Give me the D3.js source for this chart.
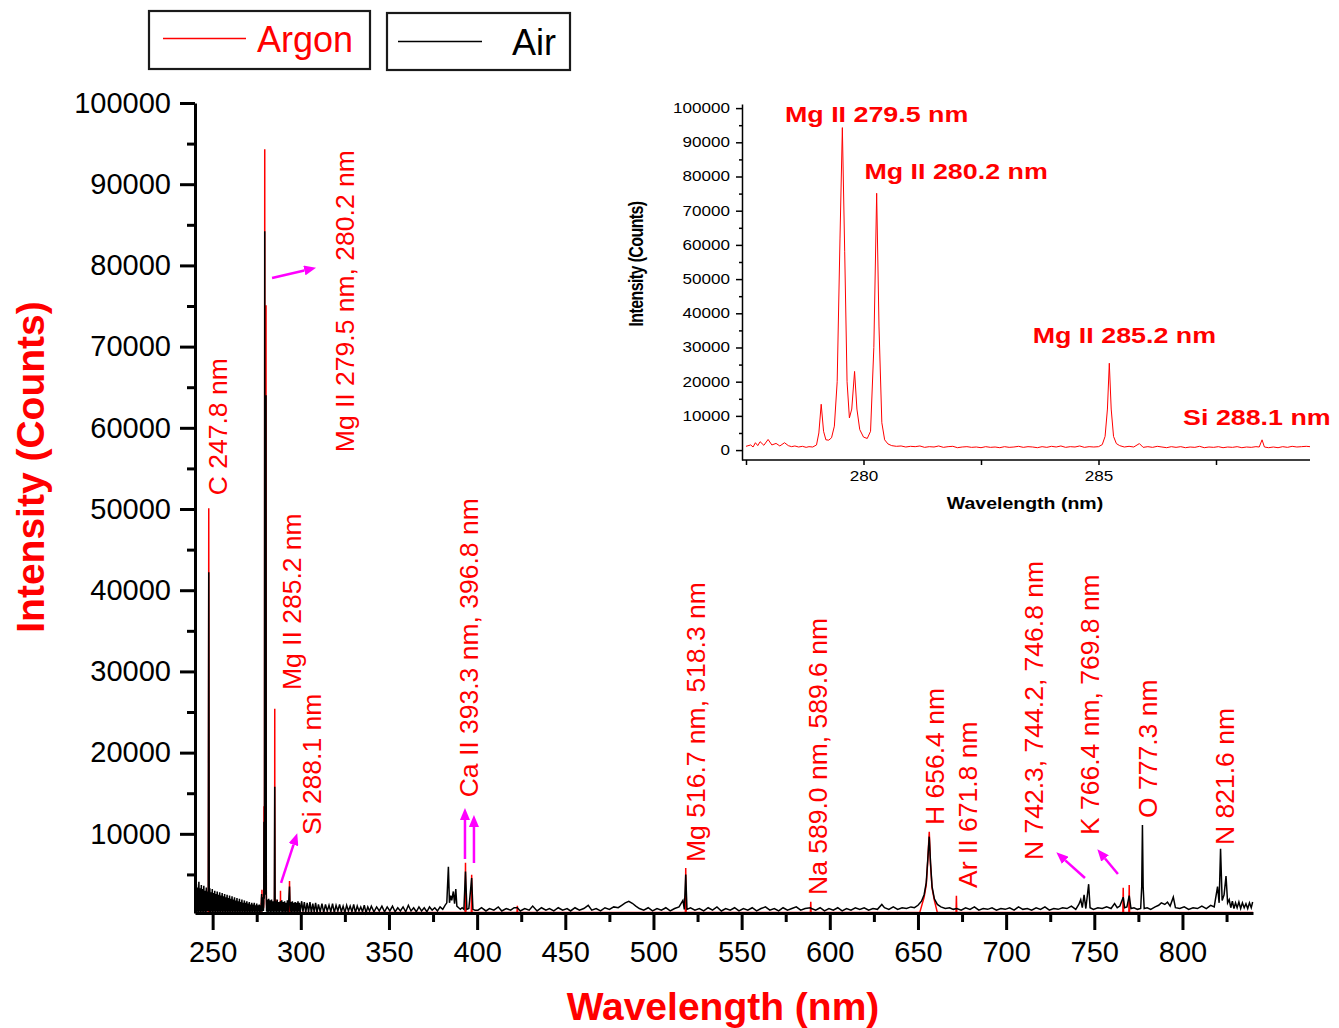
<!DOCTYPE html>
<html>
<head>
<meta charset="utf-8">
<script src="https://cdn.jsdelivr.net/npm/d3@7"></script>
<style>
  body { margin: 0; background: #fff; }
  text { font-family: "Liberation Sans", Arial, sans-serif; }
</style>
</head>
<body>
<svg id="chart" width="1339" height="1028"></svg>
<script>
// ---- data ----
// [wavelength nm, counts]
const airSpectrum = [
  [240.1,3100],[240.4,300],[240.8,3800],[241.1,400],[241.5,3400],[241.8,300],[242.2,4100],[242.5,400],[242.9,3300],[243.2,300],
  [243.6,3700],[243.9,400],[244.3,3200],[244.6,300],[245.0,3600],[245.3,400],[245.7,3000],[246.0,300],[246.4,3400],[246.7,400],
  [247.1,2900],[247.5,500],[247.8,42200],[248.1,400],[248.4,3300],[248.7,300],[249.1,2800],[249.4,400],[249.8,3200],[250.1,300],
  [250.5,2700],[250.8,400],[251.2,3000],[251.5,300],[251.9,2600],[252.2,400],[252.6,2900],[252.9,300],[253.3,2500],[253.6,400],
  [254.0,2800],[254.3,300],[254.7,2400],[255.0,400],[255.4,2700],[255.7,300],[256.1,2300],[256.4,400],[256.8,2600],[257.1,300],
  [257.5,2200],[257.8,400],[258.2,2500],[258.5,300],[258.9,2100],[259.2,400],[259.6,2400],[259.9,300],[260.3,2000],[260.6,400],
  [261.0,2300],[261.3,300],[261.7,1900],[262.0,400],[262.4,2200],[262.7,300],[263.1,1800],[263.4,400],[263.8,2100],[264.1,300],
  [264.5,1700],[264.8,400],[265.2,2000],[265.5,300],[265.9,1600],[266.2,400],[266.6,1900],[266.9,300],[267.3,1500],[267.6,400],
  [268.0,1800],[268.3,300],[268.7,1500],[269.0,400],[269.4,1700],[269.7,300],[270.1,1400],[270.4,400],[270.8,1600],[271.1,300],
  [271.5,1300],[271.8,400],[272.2,1500],[272.5,300],[272.9,1300],[273.2,400],[273.6,1500],[273.9,300],[274.3,1200],[274.6,400],
  [275.0,1400],[275.3,300],[275.7,1200],[276.0,400],[276.4,1300],[276.7,300],[277.1,1200],[277.4,400],[277.8,2600],[278.1,400],
  [278.5,2200],[278.8,500],[279.0,1500],[279.1,11500],[279.25,2000],[279.4,7000],[279.55,84200],[279.7,5000],[279.81,14000],[279.95,2500],
  [280.15,6000],[280.28,64000],[280.42,2500],[280.6,400],[281.0,1900],[281.4,300],[281.8,2000],[282.2,400],[282.6,1800],[283.0,300],
  [283.4,1900],[283.8,400],[284.2,1700],[284.6,300],[285.0,1800],[285.22,15800],[285.45,400],[285.8,1700],[286.2,300],[286.6,1900],
  [287.0,400],[287.4,1600],[287.8,300],[288.2,1500],[288.48,1700],[288.8,400],[289.2,1800],[289.6,300],[290.0,1600],[290.4,400],
  [290.8,1700],[291.2,300],[291.6,1500],[292.0,400],[292.4,1800],[292.8,300],[293.2,1900],[293.6,3500],[294.0,400],[294.4,1600],
  [294.8,300],[295.2,1700],[295.6,400],[296.0,1500],[296.4,300],[296.8,1600],[297.2,400],[297.6,1500],[298.0,300],[298.4,1700],
  [298.8,400],[299.2,1500],[299.6,300],[300.5,1700],[301.2,400],[302.0,1600],[302.8,300],[303.6,1500],[304.4,400],[305.2,1600],
  [306.0,300],[306.8,1400],[307.6,400],[308.4,1500],[309.2,300],[310.0,1300],[311.0,400],[312.0,1400],[313.0,300],[314.0,1300],
  [315.0,500],[316.0,1200],[317.0,400],[318.0,1400],[319.0,300],[320.0,1200],[321.0,500],[322.0,1300],[323.0,400],[324.0,1100],
  [325.0,300],[326.0,1200],[327.0,500],[328.0,1100],[329.0,400],[330.0,1300],[331.0,300],[332.0,1100],[333.0,500],[334.0,1000],
  [335.0,400],[336.0,1200],[337.0,300],[338.0,1000],[339.0,500],[340.0,1100],[341.5,400],[343.0,1000],[344.5,500],[346.0,1100],
  [347.5,400],[349.0,1000],[350.5,500],[352.0,1100],[353.5,400],[355.0,900],[356.5,500],[358.0,1000],[359.5,400],[361.0,1200],
  [362.5,500],[364.0,900],[365.5,400],[367.0,1000],[368.5,500],[370.0,900],[371.5,400],[373.0,1000],[374.5,600],[376.0,900],
  [377.5,500],[379.0,1000],[380.5,700],[381.8,1200],[382.8,1500],[383.7,5950],[384.3,1500],[385.0,2400],[385.6,1800],[386.5,2900],
  [387.2,1400],[387.9,3200],[388.5,1100],[389.5,900],[390.5,700],[391.5,900],[392.5,700],[393.4,5350],[394.2,700],[395.3,800],
  [396.9,4550],[397.6,700],[398.8,600],[400.5,600],[402.5,900],[405.0,500],[407.0,800],[409.5,600],[412.0,1000],[414.0,500],
  [416.5,800],[419.0,600],[421.0,900],[422.8,900],[424.5,500],[427.0,800],[429.5,600],[431.5,1100],[434.0,500],[436.5,900],
  [439.0,600],[441.0,800],[443.5,500],[446.0,900],[448.5,600],[451.0,800],[453.0,500],[455.5,900],[458.0,600],[460.5,800],
  [463.0,1200],[465.0,600],[467.5,800],[470.0,500],[472.5,900],[475.0,700],[477.5,1000],[480.0,900],[482.0,1200],[484.0,1500],
  [486.0,1700],[488.0,1450],[490.0,1100],[492.0,800],[494.5,600],[497.0,900],[499.5,500],[502.0,800],[504.5,600],[507.0,900],
  [509.5,500],[512.0,800],[514.5,1000],[516.7,1800],[517.5,700],[518.3,5000],[519.0,700],[521.0,900],[523.5,600],[526.0,800],
  [528.5,500],[531.0,900],[533.5,600],[536.0,1000],[538.5,500],[541.0,800],[543.5,600],[546.0,900],[548.5,500],[551.0,800],
  [553.5,600],[556.0,900],[558.5,500],[561.0,800],[563.5,1000],[566.0,600],[568.5,800],[571.0,500],[573.5,900],[576.0,600],
  [578.5,800],[581.0,1000],[583.5,600],[586.0,800],[589.0,900],[589.6,800],[592.0,600],[594.5,900],[597.0,500],[599.5,800],
  [602.0,600],[604.5,900],[607.0,500],[609.5,800],[612.0,600],[614.5,900],[617.0,700],[619.5,900],[622.0,600],[624.5,800],
  [627.0,700],[629.5,1300],[631.0,900],[633.5,700],[636.0,1000],[638.5,700],[641.0,900],[643.5,800],[646.0,1000],[648.0,900],
  [650.0,1200],[652.0,1700],[653.5,2500],[654.7,4000],[655.6,7000],[656.4,9650],[657.1,6500],[658.0,3500],[659.3,2000],[661.0,1300],
  [663.0,1000],[665.5,800],[668.0,900],[670.0,700],[672.0,800],[674.5,600],[677.0,900],[679.5,700],[682.0,1000],[684.5,600],
  [687.0,800],[689.5,700],[692.0,900],[694.5,600],[697.0,800],[699.5,700],[702.0,900],[704.5,600],[707.0,1000],[709.5,700],
  [712.0,800],[714.5,600],[717.0,900],[719.5,700],[722.0,1000],[724.5,600],[727.0,800],[729.5,700],[732.0,900],[734.5,800],
  [737.0,1100],[739.5,700],[741.2,1300],[742.3,1900],[743.2,900],[744.2,2500],[745.2,800],[746.8,3800],[747.6,900],[749.5,700],
  [752.0,900],[754.5,800],[757.0,1000],[759.5,800],[761.5,1400],[763.0,900],[764.5,1100],[766.4,2200],[767.2,900],[768.5,1000],
  [769.8,2400],[770.8,800],[772.5,900],[774.5,700],[776.3,800],[776.9,3500],[777.3,11100],[777.7,3500],[778.3,800],[780.0,900],
  [782.0,700],[784.5,1000],[786.5,1200],[788.0,1500],[790.0,1300],[791.5,1600],[793.0,1100],[794.8,2200],[796.0,900],[798.5,800],
  [801.0,1000],[803.5,700],[806.0,900],[808.5,800],[811.0,1100],[813.5,800],[816.0,1200],[818.0,1000],[819.9,3500],[820.8,1500],
  [821.6,8150],[822.5,1800],[823.6,2500],[824.7,4800],[825.6,1500],[826.5,1900],[827.4,900],[828.3,1700],[829.2,800],[830.1,1500],
  [831.0,900],[832.0,1600],[833.0,800],[834.0,1500],[835.0,900],[836.0,1400],[837.0,800],[838.0,1500],[839.0,900],[839.8,1600]
];

const argonSpectrum = [
  [240.0,300],[247.6,300],[247.8,50100],[248.0,300],[277.4,300],
  [277.5,1100],[277.6,1500],[277.65,900],[277.7,2150],[277.75,1300],[277.8,2450],[277.88,1400],[277.97,3100],[278.05,1500],[278.14,1950],
  [278.22,1200],[278.32,2150],[278.4,1300],[278.47,1000],[278.54,1200],[278.62,900],[278.7,1100],[278.78,800],[278.84,1000],[278.92,900],
  [279.0,1500],[279.05,5000],[279.1,13400],[279.15,5500],[279.2,3000],[279.26,2900],[279.32,3600],[279.38,7000],[279.44,20000],[279.5,62000],
  [279.55,94300],[279.6,58000],[279.65,20000],[279.7,9400],[279.75,12000],[279.81,23000],[279.86,12000],[279.92,6000],[280.0,3800],[280.08,3400],
  [280.15,5500],[280.22,30000],[280.28,75100],[280.33,36000],[280.39,8000],[280.45,3000],[280.52,1800],[280.6,1300],[280.7,1100],[280.8,1200],
  [280.9,900],[281.0,1100],[281.1,1000],[281.2,1200],[281.3,800],[281.4,1000],[281.5,900],[281.6,1200],[281.7,800],[281.8,1000],
  [281.9,1100],[282.0,700],[282.1,900],[282.2,1000],[282.3,800],[282.4,900],[282.5,700],[282.6,1000],[282.7,800],[282.8,900],
  [282.9,700],[283.0,1000],[283.1,800],[283.2,900],[283.3,1100],[283.4,800],[283.5,1000],[283.6,900],[283.7,700],[283.8,1000],
  [283.9,800],[284.0,1100],[284.1,900],[284.2,1200],[284.3,800],[284.4,1000],[284.5,900],[284.6,1200],[284.7,800],[284.8,1000],
  [284.9,900],[285.0,1000],[285.08,1600],[285.14,4000],[285.19,12000],[285.23,25400],[285.27,12000],[285.32,4000],[285.38,1900],[285.45,1300],
  [285.55,900],[285.65,1100],[285.75,900],[285.87,1900],[285.95,800],[286.05,1000],[286.15,800],[286.25,1100],[286.35,900],[286.45,700],
  [286.55,1000],[286.65,800],[286.75,1000],[286.85,700],[286.95,900],[287.05,800],[287.15,1100],[287.25,700],[287.35,900],[287.45,800],
  [287.55,1000],[287.65,700],[287.75,900],[287.85,800],[287.95,1000],[288.05,700],[288.15,900],[288.25,800],[288.35,1000],[288.42,900],
  [288.48,3000],[288.53,900],[288.62,700],[288.72,900],[288.82,700],[288.92,1000],[289.02,800],[289.12,1100],[289.22,900],[289.32,1000],
  [289.42,1100],[289.5,1000],[289.6,300],[293.4,300],[293.6,4200],[293.8,300],[393.2,300],[393.4,6450],[393.6,300],[396.7,300],
  [396.9,4950],[397.1,300],[422.6,300],[422.8,1130],[423.0,300],[518.1,300],[518.3,5800],[518.5,300],[589.0,300],[589.2,1640],
  [589.4,300],[651.0,300],[653.5,2200],[654.7,3700],[655.6,6800],[656.4,10250],[657.1,6300],[658.0,3300],[659.3,1800],[661.0,300],
  [671.6,300],[671.8,2360],[672.0,300],[766.2,300],[766.4,3350],[766.6,300],
  [769.6,300],[769.8,3700],[770.0,300],[840.0,300]
];

const mainXTicks = [250, 300, 350, 400, 450, 500, 550, 600, 650, 700, 750, 800];
const mainXMinor = [275, 325, 375, 425, 475, 525, 575, 625, 675, 725, 775, 825];
const mainYTicks = [10000, 20000, 30000, 40000, 50000, 60000, 70000, 80000, 90000, 100000];
const mainYMinor = [5000, 15000, 25000, 35000, 45000, 55000, 65000, 75000, 85000, 95000];

const insetXTicks = [277.5, 280, 282.5, 285, 287.5];
const insetXLabels = [280, 285];
const insetYTicks = [0, 10000, 20000, 30000, 40000, 50000, 60000, 70000, 80000, 90000, 100000];
const insetYMinor = [5000, 15000, 25000, 35000, 45000, 55000, 65000, 75000, 85000, 95000];

// label anchor = bottom end of the rotated text, in data units
const lineLabels = [
  { text: "C 247.8 nm", wl: 258.1, counts: 51700 },
  { text: "Mg II 279.5 nm, 280.2 nm", wl: 330.2, counts: 57000 },
  { text: "Mg II 285.2 nm", wl: 300.1, counts: 27700 },
  { text: "Si 288.1 nm", wl: 311.5, counts: 9850 },
  { text: "Ca II 393.3 nm, 396.8 nm", wl: 400.5, counts: 14500 },
  { text: "Mg 516.7 nm, 518.3 nm", wl: 529.2, counts: 6530 },
  { text: "Na 589.0 nm, 589.6 nm", wl: 598.4, counts: 2470 },
  { text: "H 656.4 nm", wl: 664.8, counts: 11090 },
  { text: "Ar II 671.8 nm", wl: 683.5, counts: 3330 },
  { text: "N 742.3, 744.2, 746.8 nm", wl: 720.9, counts: 6780 },
  { text: "K 766.4 nm, 769.8 nm", wl: 752.7, counts: 9850 },
  { text: "O 777.3 nm", wl: 785.6, counts: 11950 },
  { text: "N 821.6 nm", wl: 829.2, counts: 8620 }
];

const arrows = [
  { from: [283.7, 78450], to: [308.1, 79680] },
  { from: [288.8, 3950], to: [297.8, 9950] },
  { from: [393.1, 6900], to: [393.1, 13060] },
  { from: [398.2, 6410], to: [398.2, 12200] },
  { from: [744.7, 4560], to: [728.9, 7640] },
  { from: [763.4, 5050], to: [752.1, 8010] }
];

const insetLabels = [
  { text: "Mg II 279.5 nm", wl: 278.33, counts: 95940 },
  { text: "Mg II 280.2 nm", wl: 280.02, counts: 79270 },
  { text: "Mg II 285.2 nm", wl: 283.6, counts: 31310 },
  { text: "Si 288.1 nm", wl: 286.8, counts: 7330 }
];

// ---- drawing ----
const svg = d3.select("#chart");
svg.append("rect").attr("width", 1339).attr("height", 1028).attr("fill", "#fff");

const RED = "#ff0000";
const MAGENTA = "#ff00ff";

const x = d3.scaleLinear([240, 840], [195, 1253]);
const y = d3.scaleLinear([250, 100000], [913, 103]);

const line = d3.line().x(d => x(d[0])).y(d => y(d[1]));

svg.append("path").datum(argonSpectrum)
  .attr("fill", "none").attr("stroke", RED).attr("stroke-width", 1.5).attr("d", line);
svg.append("path").datum(airSpectrum)
  .attr("fill", "none").attr("stroke", "#000").attr("stroke-width", 1.5).attr("d", line);

// main axes
const yMinorAxis = svg.append("g").attr("transform", "translate(195,0)")
  .call(d3.axisLeft(y).tickValues(mainYMinor).tickSize(8).tickSizeOuter(0).tickFormat(() => ""));
yMinorAxis.select(".domain").remove();
const yAxis = svg.append("g").attr("transform", "translate(195,0)")
  .call(d3.axisLeft(y).tickValues(mainYTicks).tickSize(15).tickPadding(9).tickSizeOuter(0).tickFormat(d3.format("d")));

const xMinorAxis = svg.append("g").attr("transform", "translate(0,913)")
  .call(d3.axisBottom(x).tickValues(mainXMinor).tickSize(9).tickSizeOuter(0).tickFormat(() => ""));
xMinorAxis.select(".domain").remove();
const xAxis = svg.append("g").attr("transform", "translate(0,913)")
  .call(d3.axisBottom(x).tickValues(mainXTicks).tickSize(17).tickPadding(11).tickSizeOuter(0));

[yMinorAxis, yAxis, xMinorAxis, xAxis].forEach(g => {
  g.selectAll(".domain, .tick line").attr("stroke", "#000").attr("stroke-width", 3);
  g.selectAll("text").attr("font-size", 29).attr("fill", "#000")
    .attr("font-family", "'Liberation Sans', Arial, sans-serif");
});

svg.append("text")
  .attr("transform", "translate(44,467) rotate(-90)")
  .attr("text-anchor", "middle").attr("font-size", 39).attr("font-weight", "bold")
  .attr("fill", RED).text("Intensity (Counts)");
svg.append("text")
  .attr("x", 723).attr("y", 1020)
  .attr("text-anchor", "middle").attr("font-size", 39).attr("font-weight", "bold")
  .attr("fill", RED).text("Wavelength (nm)");

// peak labels
svg.append("g").selectAll("text").data(lineLabels).join("text")
  .attr("transform", d => `translate(${x(d.wl)},${y(d.counts)}) rotate(-90)`)
  .attr("font-size", 26.5).attr("fill", RED).text(d => d.text);

// arrows
svg.append("defs").append("marker")
  .attr("id", "arrowhead").attr("viewBox", "0 0 12 10")
  .attr("refX", 0).attr("refY", 5)
  .attr("markerWidth", 12).attr("markerHeight", 10)
  .attr("markerUnits", "userSpaceOnUse").attr("orient", "auto")
  .append("path").attr("d", "M0,0 L12,5 L0,10 Z").attr("fill", MAGENTA);

svg.append("g").selectAll("line").data(arrows).join("line")
  .each(function (d) {
    const x1 = x(d.from[0]), y1 = y(d.from[1]);
    const x2 = x(d.to[0]), y2 = y(d.to[1]);
    const len = Math.hypot(x2 - x1, y2 - y1);
    const k = (len - 11) / len;
    d3.select(this)
      .attr("x1", x1).attr("y1", y1)
      .attr("x2", x1 + (x2 - x1) * k).attr("y2", y1 + (y2 - y1) * k);
  })
  .attr("stroke", MAGENTA).attr("stroke-width", 2.5)
  .attr("marker-end", "url(#arrowhead)");

// legend
const legend = svg.append("g");
legend.append("rect").attr("x", 149).attr("y", 11).attr("width", 221).attr("height", 58)
  .attr("fill", "#fff").attr("stroke", "#1a1a1a").attr("stroke-width", 2.2);
legend.append("line").attr("x1", 163).attr("x2", 246).attr("y1", 38.5).attr("y2", 38.5)
  .attr("stroke", RED).attr("stroke-width", 1.5);
legend.append("text").attr("x", 257).attr("y", 52).attr("font-size", 36).attr("fill", RED).text("Argon");
legend.append("rect").attr("x", 387).attr("y", 13).attr("width", 183).attr("height", 57)
  .attr("fill", "#fff").attr("stroke", "#1a1a1a").attr("stroke-width", 2.2);
legend.append("line").attr("x1", 398).attr("x2", 482).attr("y1", 41.5).attr("y2", 41.5)
  .attr("stroke", "#000").attr("stroke-width", 1.5);
legend.append("text").attr("x", 512).attr("y", 55).attr("font-size", 36).attr("fill", "#000").text("Air");

// ---- inset: argon around the Mg II lines ----
const SX = 1.22; // inset text is stretched horizontally
const xi = d3.scaleLinear([277.5, 289.5], [746, 1310]);
const yi = d3.scaleLinear([-2900, 101200], [460, 104]);
const insetLine = d3.line().x(d => xi(d[0])).y(d => yi(d[1]));

svg.append("path")
  .datum(argonSpectrum.filter(d => d[0] >= 277.5 && d[0] <= 289.5))
  .attr("fill", "none").attr("stroke", RED).attr("stroke-width", 1).attr("d", insetLine);

const iyMinor = svg.append("g").attr("transform", "translate(742,0)")
  .call(d3.axisLeft(yi).tickValues(insetYMinor).tickSize(3).tickSizeOuter(0).tickFormat(() => ""));
iyMinor.select(".domain").remove();
const iy = svg.append("g").attr("transform", "translate(742,0)")
  .call(d3.axisLeft(yi).tickValues(insetYTicks).tickSize(6).tickPadding(6).tickSizeOuter(0).tickFormat(d3.format("d")));
iy.selectAll("text").attr("x", -12 / SX).attr("transform", `scale(${SX},1)`);

const ix = svg.append("g").attr("transform", "translate(0,460)")
  .call(d3.axisBottom(xi).tickValues(insetXTicks).tickSize(5).tickPadding(6).tickSizeOuter(0)
    .tickFormat(d => insetXLabels.includes(d) ? d : ""));
ix.select(".domain").remove();
ix.append("line").attr("x1", 742).attr("x2", xi.range()[1]).attr("y1", 0).attr("y2", 0);
ix.selectAll("text").attr("transform", `scale(${SX},1)`);

[iyMinor, iy, ix].forEach(g => {
  g.selectAll(".domain, line").attr("stroke", "#000").attr("stroke-width", 1.5);
  g.selectAll("text").attr("font-size", 14).attr("fill", "#000")
    .attr("font-family", "'Liberation Sans', Arial, sans-serif");
});

svg.append("text")
  .attr("transform", `translate(636,264) scale(${SX},1) rotate(-90)`)
  .attr("dy", "0.35em").attr("text-anchor", "middle")
  .attr("font-size", 16).attr("font-weight", "bold").attr("fill", "#000")
  .attr("letter-spacing", -0.6)
  .text("Intensity (Counts)");
svg.append("text")
  .attr("transform", `translate(1025,509) scale(${SX},1)`)
  .attr("text-anchor", "middle").attr("font-size", 16).attr("font-weight", "bold").attr("fill", "#000")
  .text("Wavelength (nm)");

svg.append("g").selectAll("text").data(insetLabels).join("text")
  .attr("transform", d => `translate(${xi(d.wl)},${yi(d.counts)}) scale(${SX},1)`)
  .attr("font-size", 22).attr("font-weight", "bold").attr("fill", RED).text(d => d.text);
</script>
</body>
</html>
